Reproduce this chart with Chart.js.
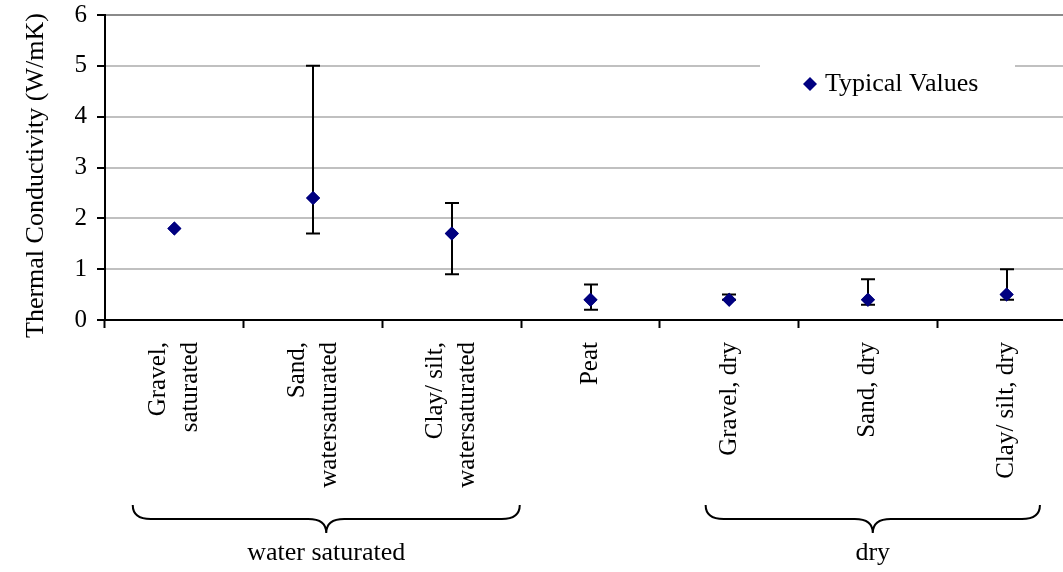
<!DOCTYPE html>
<html>
<head>
<meta charset="utf-8">
<script src="https://cdn.jsdelivr.net/npm/chart.js@4/dist/chart.umd.min.js"></script>
<style>
  html, body { margin: 0; padding: 0; background: #fff; overflow: hidden; width: 1063px; height: 572px; }
  #wrap { width: 1090px; height: 572px; position: relative; }
</style>
</head>
<body>
<div id="wrap"><canvas id="chart"></canvas></div>
<script>
// soil types
const categories = [
  ['Gravel,', 'saturated'],
  ['Sand,', 'watersaturated'],
  ['Clay/ silt,', 'watersaturated'],
  ['Peat'],
  ['Gravel, dry'],
  ['Sand, dry'],
  ['Clay/ silt, dry']
];
const typicalValues = [1.8, 2.4, 1.7, 0.4, 0.4, 0.4, 0.5];
const rangeLow  = [null, 1.7, 0.9, 0.2, 0.4, 0.3, 0.4];
const rangeHigh = [null, 5.0, 2.3, 0.7, 0.5, 0.8, 1.0];
const yTicks = [0, 1, 2, 3, 4, 5, 6];

// brace groups below the axis (in category index units)
const groupLabels = ['water saturated', 'dry'];
const groupFrom = [-0.3, 3.83];
const groupTo = [2.49, 6.24];

const FONT = '"Liberation Serif", "Times New Roman", serif';
const NAVY = '#000080';

const errorBars = {
  id: 'errorBars',
  afterDatasetsDraw(chart) {
    const { ctx, scales: { x, y } } = chart;
    ctx.save();
    ctx.strokeStyle = '#000';
    ctx.lineWidth = 2;
    for (let i = 0; i < categories.length; i++) {
      if (rangeLow[i] == null) continue;
      const px = Math.round(x.getPixelForValue(i));
      const yl = y.getPixelForValue(rangeLow[i]);
      const yh = y.getPixelForValue(rangeHigh[i]);
      ctx.beginPath();
      ctx.moveTo(px, yl); ctx.lineTo(px, yh);
      ctx.moveTo(px - 7, yl); ctx.lineTo(px + 7, yl);
      ctx.moveTo(px - 7, yh); ctx.lineTo(px + 7, yh);
      ctx.stroke();
    }
    ctx.restore();
    // markers on top of the bars
    chart.getDatasetMeta(0).data.forEach(p => p.draw(ctx, chart.chartArea));
  }
};

const extras = {
  id: 'extras',
  afterDraw(chart) {
    const { ctx, scales: { x } } = chart;

    // category labels, rotated, lines centred on the tick
    ctx.save();
    ctx.font = '25px ' + FONT;
    ctx.fillStyle = '#000';
    ctx.textAlign = 'right';
    ctx.textBaseline = 'middle';
    const lh = 32;
    categories.forEach((lines, i) => {
      const cx = x.getPixelForValue(i);
      lines.forEach((line, j) => {
        const lx = cx + (j - (lines.length - 1) / 2) * lh;
        ctx.save();
        ctx.translate(lx, 342);
        ctx.rotate(-Math.PI / 2);
        ctx.fillText(line, 0, 0);
        ctx.restore();
      });
    });
    ctx.restore();

    // y axis title
    ctx.save();
    ctx.translate(36, 338);
    ctx.rotate(-Math.PI / 2);
    ctx.font = '26px ' + FONT;
    ctx.fillStyle = '#000';
    ctx.textAlign = 'left';
    ctx.textBaseline = 'middle';
    ctx.fillText('Thermal Conductivity (W/mK)', 0, 0);
    ctx.restore();

    // legend box
    ctx.save();
    ctx.fillStyle = '#fff';
    ctx.fillRect(760, 54, 255, 56);
    ctx.fillStyle = NAVY;
    ctx.beginPath();
    ctx.moveTo(810, 77); ctx.lineTo(817, 84); ctx.lineTo(810, 91); ctx.lineTo(803, 84);
    ctx.closePath(); ctx.fill();
    ctx.font = '26px ' + FONT;
    ctx.fillStyle = '#000';
    ctx.textAlign = 'left';
    ctx.textBaseline = 'middle';
    ctx.fillText('Typical Values', 825, 84);
    ctx.restore();

    // group braces
    ctx.save();
    ctx.strokeStyle = '#000';
    ctx.lineWidth = 2;
    const top = 505, mid = 519, tip = 533, r = 18;
    groupLabels.forEach((label, i) => {
      const x1 = x.getPixelForValue(groupFrom[i]);
      const x2 = x.getPixelForValue(groupTo[i]);
      const xm = (x1 + x2) / 2;
      ctx.beginPath();
      ctx.moveTo(x1, top);
      ctx.quadraticCurveTo(x1, mid, x1 + r, mid);
      ctx.lineTo(xm - r, mid);
      ctx.quadraticCurveTo(xm, mid, xm, tip);
      ctx.quadraticCurveTo(xm, mid, xm + r, mid);
      ctx.lineTo(x2 - r, mid);
      ctx.quadraticCurveTo(x2, mid, x2, top);
      ctx.stroke();
      ctx.font = '26px ' + FONT;
      ctx.fillStyle = '#000';
      ctx.textAlign = 'center';
      ctx.textBaseline = 'middle';
      ctx.fillText(label, xm, 553);
    });
    ctx.restore();
  }
};

new Chart(document.getElementById('chart'), {
  type: 'line',
  data: {
    labels: categories,
    datasets: [{
      label: 'Typical Values',
      data: typicalValues,
      showLine: false,
      pointStyle: 'rectRot',
      pointRadius: 7,
      pointBorderWidth: 0,
      pointBackgroundColor: NAVY,
      pointBorderColor: NAVY
    }]
  },
  options: {
    responsive: true,
    maintainAspectRatio: false,
    animation: false,
    events: [],
    layout: { padding: { top: 15, right: 14, left: 0, bottom: 0 } },
    plugins: { legend: { display: false }, tooltip: { enabled: false } },
    scales: {
      x: {
        type: 'category',
        offset: true,
        afterFit: (s) => { s.height = 252; s.paddingLeft = 0; s.paddingRight = 0; },
        grid: {
          offset: true,
          drawOnChartArea: false,
          drawTicks: true,
          tickLength: 8,
          tickColor: '#000',
          tickWidth: 2
        },
        border: { color: '#000', width: 2 },
        ticks: { display: false }
      },
      y: {
        min: 0,
        max: 6,
        afterFit: (s) => { s.width = 105; s.paddingTop = 0; s.paddingBottom = 0; },
        afterBuildTicks: (s) => { s.ticks = yTicks.map(v => ({ value: v })); },
        grid: {
          color: (c) => c.tick && c.tick.value === 6 ? '#8a8a8a' : '#c0c0c0',
          lineWidth: 2,
          tickLength: 8,
          tickColor: '#000',
          tickWidth: 2
        },
        border: { color: '#000', width: 2 },
        ticks: {
          padding: 10,
          color: '#000',
          font: { family: FONT, size: 25 }
        }
      }
    }
  },
  plugins: [errorBars, extras]
});
</script>
</body>
</html>
